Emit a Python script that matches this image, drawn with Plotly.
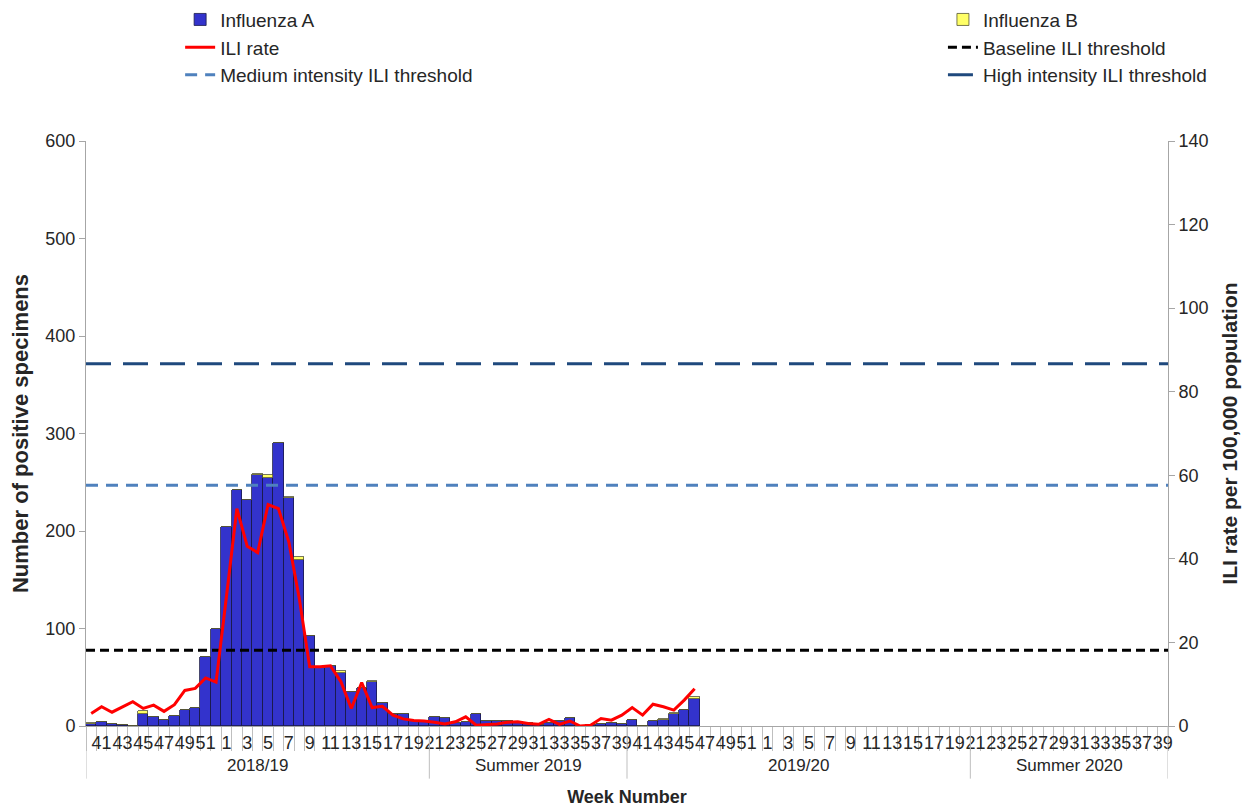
import plotly.graph_objects as go

# ---------------- data ----------------
season_weeks = list(range(40, 53)) + list(range(1, 40))
week_numbers = season_weeks + season_weeks          # 2018/19 + 2019/20 seasons (104 weeks)
period_labels = (["2018/19"] * 33 + ["Summer 2019"] * 19 +
                 ["2019/20"] * 33 + ["Summer 2020"] * 19)

# Positive specimens (week 40 2018 ... week 46 2019)
influenza_a = [2, 4, 2, 1, 0, 12, 9, 6, 10, 16, 18, 71, 100,
               204, 242, 232, 257, 254, 290, 234, 170, 92, 60, 62, 54, 35, 39, 45, 24,
               12, 12, 5, 5,
               9, 8, 3, 4, 12, 5, 5, 5, 4, 3, 1, 3, 5, 8, 0, 1, 2, 3, 2,
               6, 0, 5, 6, 12, 16, 28]
influenza_b = [1, 0, 0, 0, 0, 3, 0, 0, 0, 0, 0, 0, 0,
               0, 0, 0, 1, 3, 0, 1, 3, 0, 0, 0, 2, 0, 0, 1, 0,
               0, 0, 0, 0,
               0, 0, 0, 0, 0, 0, 0, 0, 0, 0, 0, 0, 0, 0, 0, 0, 0, 0, 0,
               0, 0, 0, 1, 1, 0, 2]
# ILI rate per 100,000 population
ili_rate = [3.0, 4.6, 3.3, 4.6, 5.8, 4.2, 5.0, 3.5, 5.1, 8.5, 9.0, 11.5, 10.5,
            31.0, 52.0, 43.0, 41.5, 53.0, 52.0, 44.0, 30.5, 14.2, 14.2, 14.4, 10.6,
            4.2, 10.4, 4.4, 4.7, 2.6, 1.7, 1.3, 1.2,
            0.9, 0.5, 1.0, 2.2, 0.2, 0.4, 0.5, 0.9, 1.0, 0.6, 0.4, 1.6, 0.4, 1.2,
            0.0, 0.2, 1.8, 1.4, 2.6,
            4.4, 2.6, 5.2, 4.6, 3.8, 6.2, 8.9]

baseline_threshold = 18.1
medium_threshold = 57.6
high_threshold = 86.7

# ---------------- derived positions ----------------
n_weeks = len(week_numbers)
x_all = list(range(n_weeks))
x_data = x_all[:len(influenza_a)]
x_span = [-0.5, n_weeks - 0.5]
odd_idx = [i for i, w in enumerate(week_numbers) if w % 2 == 1]
odd_txt = [str(week_numbers[i]) for i in odd_idx]
boundaries = [i - 0.5 for i in range(n_weeks + 1)]

# period groups
groups = []
start = 0
for i in range(1, n_weeks + 1):
    if i == n_weeks or period_labels[i] != period_labels[start]:
        groups.append((period_labels[start], start - 0.5, i - 0.5))
        start = i

FONT = "Liberation Sans, Arial, sans-serif"
TXT = "#262626"
AXC = "#A6A6A6"

fig = go.Figure()

fig.add_trace(go.Bar(
    x=x_data, y=influenza_a, name="Influenza A", width=1,
    marker=dict(color="#3333CC", line=dict(color="#1A1A4A", width=0.8)),
    legend="legend", legendrank=1))
fig.add_trace(go.Bar(
    x=x_data, y=influenza_b, name="Influenza B", width=1,
    marker=dict(color="#FFFF66", line=dict(color="#555533", width=0.8)),
    legend="legend2", legendrank=1))

fig.add_trace(go.Scatter(
    x=x_span, y=[baseline_threshold] * 2, name="Baseline ILI threshold",
    mode="lines", yaxis="y2", line=dict(color="#000000", width=3, dash="9px,5px"),
    legend="legend2", legendrank=2, hoverinfo="skip"))
fig.add_trace(go.Scatter(
    x=x_span, y=[medium_threshold] * 2, name="Medium intensity ILI threshold",
    mode="lines", yaxis="y2", line=dict(color="#4F81BD", width=3, dash="12px,8px"),
    legend="legend", legendrank=3, hoverinfo="skip"))
fig.add_trace(go.Scatter(
    x=x_span, y=[high_threshold] * 2, name="High intensity ILI threshold",
    mode="lines", yaxis="y2", line=dict(color="#1F497D", width=3, dash="25px,12px"),
    legend="legend2", legendrank=3, hoverinfo="skip"))
fig.add_trace(go.Scatter(
    x=x_data, y=ili_rate, name="ILI rate", mode="lines", yaxis="y2",
    line=dict(color="#FF0000", width=3), legend="legend", legendrank=2))

# period dividers and labels
shapes = []
annotations = []
for label, a, b in groups:
    annotations.append(dict(x=(a + b) / 2, y=-0.068, xref="x", yref="paper",
                            text=label, showarrow=False, yanchor="middle",
                            font=dict(family=FONT, size=17, color=TXT)))
edges = sorted(set([g[1] for g in groups] + [g[2] for g in groups]))
for e in edges:
    shapes.append(dict(type="line", xref="x", yref="paper", x0=e, x1=e,
                       y0=0, y1=-0.09, line=dict(color="#BFBFBF", width=1)))

legend_common = dict(font=dict(family=FONT, size=19, color=TXT),
                     bgcolor="rgba(0,0,0,0)", orientation="v",
                     traceorder="normal", yanchor="top", xanchor="left",
                     tracegroupgap=0)

fig.update_layout(
    width=1245, height=801,
    margin=dict(l=78, r=85, t=133, b=83, autoexpand=False),
    paper_bgcolor="white", plot_bgcolor="white",
    barmode="stack", bargap=0,
    font=dict(family=FONT, color=TXT),
    shapes=shapes, annotations=annotations,
    legend=dict(x=0.087, y=1.24, **legend_common),
    legend2=dict(x=0.792, y=1.24, **legend_common),
    xaxis=dict(range=x_span, tickmode="array", tickvals=odd_idx, ticktext=odd_txt,
               tickangle=0, ticks="", showline=True, linecolor=AXC, linewidth=1,
               showgrid=False, zeroline=False,
               tickfont=dict(family=FONT, size=18, color=TXT),
               minor=dict(tickmode="array", tickvals=boundaries, ticks="outside",
                          ticklen=24, tickcolor="#BFBFBF", tickwidth=1, showgrid=False),
               title=dict(text="<b>Week Number</b>", standoff=38,
                          font=dict(family=FONT, size=18, color=TXT)),
               automargin=False),
    yaxis=dict(range=[0, 600], tickmode="linear", tick0=0, dtick=100,
               ticks="outside", ticklen=6, tickcolor=AXC,
               showline=True, linecolor=AXC, showgrid=False, zeroline=False,
               tickfont=dict(family=FONT, size=18, color=TXT),
               title=dict(text="<b>Number of positive specimens</b>", standoff=14,
                          font=dict(family=FONT, size=22, color=TXT)),
               automargin=False),
    yaxis2=dict(range=[0, 140], tickmode="linear", tick0=0, dtick=20,
                overlaying="y", side="right", anchor="x",
                ticks="outside", ticklen=6, tickcolor=AXC,
                showline=True, linecolor=AXC, showgrid=False, zeroline=False,
                tickfont=dict(family=FONT, size=18, color=TXT),
                title=dict(text="<b>ILI rate per 100,000 population</b>", standoff=14,
                           font=dict(family=FONT, size=21, color=TXT)),
                automargin=False),
)

fig.write_html("out.html")
